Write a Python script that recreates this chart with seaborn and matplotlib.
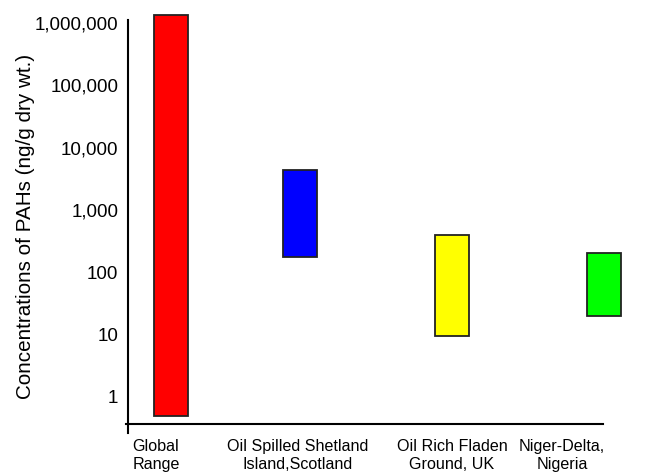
import matplotlib
matplotlib.use("Agg")
import matplotlib.pyplot as plt
import seaborn as sns
from matplotlib.ticker import FixedLocator, FixedFormatter, NullLocator

# ---- data ----
sites = ["Global\nRange", "Oil Spilled Shetland\nIsland,Scotland",
         "Oil Rich Fladen\nGround, UK", "Niger-Delta,\nNigeria"]
low = [0.5, 176, 9.6, 20]
high = [1350000, 4400, 400, 202]
colors = ["#FF0000", "#0000FF", "#FFFF00", "#00FF00"]
ytick_vals = [1, 10, 100, 1000, 10000, 100000, 1000000]
ytick_labels = ["1", "10", "100", "1,000", "10,000", "100,000", "1,000,000"]

# ---- layout (not data) ----
bar_pos = [0.333, 1.333, 2.512, 3.69]
label_pos = [0.217, 1.318, 2.512, 3.364]
bar_width = 0.264

sns.set_style("white")
plt.rcParams["font.family"] = ["Liberation Sans", "DejaVu Sans"]

fig = plt.figure(figsize=(6.7, 4.76), dpi=100)
ax = fig.add_axes([128 / 670, 43 / 476, 512 / 670, (433 - 20) / 476])

heights = [h - l for h, l in zip(high, low)]
ax.bar(bar_pos, heights, bottom=low, width=bar_width, color=colors,
       edgecolor="#222222", linewidth=1.3, clip_on=False, zorder=3)

ax.set_yscale("log")
ax.set_ylim(0.264, 1.117e6)
ax.set_xlim(0, 3.97)

ax.yaxis.set_major_locator(FixedLocator(ytick_vals))
ax.yaxis.set_major_formatter(FixedFormatter(ytick_labels))
ax.yaxis.set_minor_locator(NullLocator())
ax.tick_params(axis="y", length=0, pad=7, labelsize=13.5, colors="black")

ax.set_xticks(label_pos)
ax.tick_params(axis="x", length=0, pad=11, labelsize=11.6, colors="black")
ax.set_xticklabels(sites, fontsize=11.6, multialignment="center",
                   linespacing=1.35)

for s in ["top", "right"]:
    ax.spines[s].set_visible(False)
ax.spines["left"].set_color("black")
ax.spines["left"].set_linewidth(1.5)
ax.spines["bottom"].set_color("black")
ax.spines["bottom"].set_linewidth(1.5)
ax.spines["bottom"].set_position(("data", 0.369))
ax.spines["bottom"].set_bounds(-0.015, 3.68)

ax.set_ylabel("Concentrations of PAHs (ng/g dry wt.)", fontsize=14.9,
              labelpad=0, color="black")

fig.savefig("out.png", dpi=100, facecolor="white")
